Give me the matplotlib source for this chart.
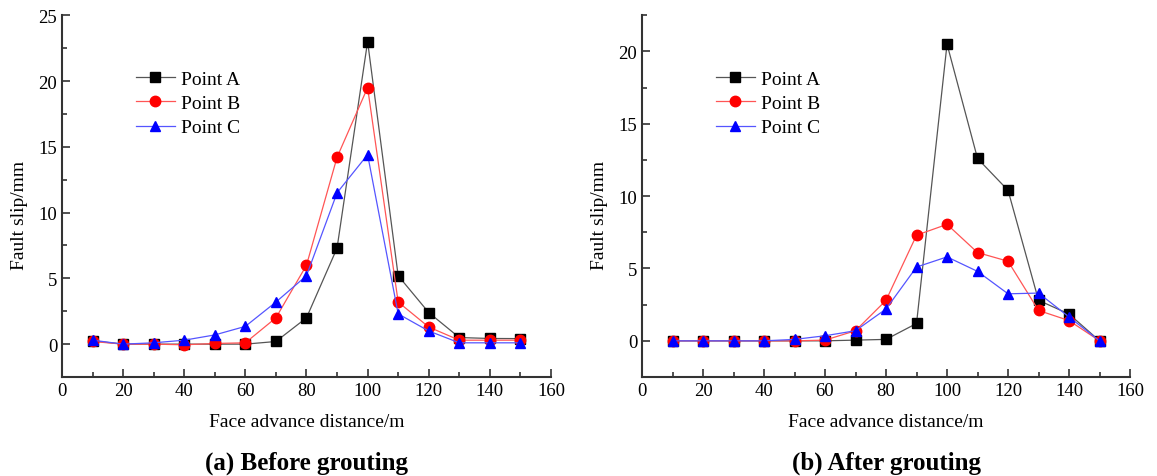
import numpy as np
import matplotlib
matplotlib.use("Agg")
import matplotlib.pyplot as plt
import matplotlib.ticker as ticker

plt.rcParams['font.family'] = ['Liberation Serif', 'DejaVu Serif']

distance = [10, 20, 30, 40, 50, 60, 70, 80, 90, 100, 110, 120, 130, 140, 150]

# (a) before grouting
before_A = [0.25, 0.0, 0.0, 0.0, 0.0, 0.0, 0.2, 2.0, 7.3, 23.0, 5.2, 2.4, 0.5, 0.43, 0.42]
before_B = [0.2, 0.0, 0.0, -0.05, 0.05, 0.1, 2.0, 6.0, 14.2, 19.5, 3.2, 1.3, 0.3, 0.3, 0.3]
before_C = [0.3, 0.0, 0.1, 0.3, 0.7, 1.35, 3.2, 5.2, 11.5, 14.4, 2.3, 1.0, 0.1, 0.1, 0.1]

# (b) after grouting
after_A = [0.0, 0.0, 0.0, 0.0, 0.0, 0.0, 0.05, 0.1, 1.2, 20.5, 12.6, 10.4, 2.8, 1.85, 0.0]
after_B = [0.0, 0.0, 0.0, 0.0, 0.0, 0.05, 0.7, 2.8, 7.3, 8.05, 6.1, 5.5, 2.1, 1.4, 0.0]
after_C = [0.0, 0.0, 0.0, 0.0, 0.1, 0.35, 0.7, 2.2, 5.1, 5.8, 4.8, 3.25, 3.3, 1.65, 0.0]

series_names = ['Point A', 'Point B', 'Point C']
panel_titles = ['(a) Before grouting', '(b) After grouting']

fig = plt.figure(figsize=(11.57, 4.77), dpi=100)


def createAx(rect, ymax, data, title):
    ax = fig.add_axes(rect)
    styles = [('black', 's', '#555555'), ('red', 'o', '#ff5555'), ('blue', '^', '#5555ff')]
    for vals, name, (mc, mk, lc) in zip(data, series_names, styles):
        ax.plot(distance, vals, color=lc, lw=0.9, marker=mk, markersize=7.5,
                markerfacecolor=mc, markeredgecolor=mc, label=name)
    ax.set_xlim(0, 160)
    ax.set_ylim(-2.5, ymax)
    ax.spines['top'].set_visible(False)
    ax.spines['right'].set_visible(False)
    for s in ['left', 'bottom']:
        ax.spines[s].set_linewidth(1.5)
        ax.spines[s].set_color('#333333')
    ax.xaxis.set_major_locator(ticker.MultipleLocator(20))
    ax.xaxis.set_minor_locator(ticker.MultipleLocator(10))
    ax.yaxis.set_major_locator(ticker.MultipleLocator(5))
    ax.yaxis.set_minor_locator(ticker.MultipleLocator(2.5))
    ax.tick_params(which='both', direction='in', color='#333333', width=1.2, labelsize=13.5)
    ax.tick_params(which='major', length=6)
    ax.tick_params(which='minor', length=3.5)
    ax.set_xlabel('Face advance distance/m', fontsize=14, labelpad=10)
    ax.set_ylabel('Fault slip/mm', fontsize=14)
    ax.yaxis.set_label_coords(-0.07, 0.45)
    ax.legend(loc='upper left', bbox_to_anchor=(0.135, 0.87), frameon=False, fontsize=14,
              handlelength=2.0, handletextpad=0.35, labelspacing=0.35, borderaxespad=0)
    ax.text(0.5, -0.235, title, transform=ax.transAxes, ha='center', va='center',
            fontsize=18, fontweight='bold')
    return ax


createAx([0.0536, 0.2075, 0.4226, 0.7585], 25, [before_A, before_B, before_C], panel_titles[0])
createAx([0.5549, 0.2075, 0.4218, 0.7585], 22.5, [after_A, after_B, after_C], panel_titles[1])

plt.savefig('out.png', dpi=100)
